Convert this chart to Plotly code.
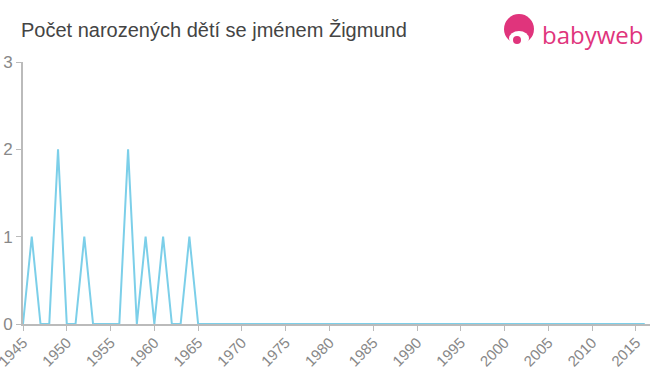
import plotly.graph_objects as go

years = list(range(1945, 2017))
counts_nonzero = {1946: 1, 1949: 2, 1952: 1, 1957: 2, 1959: 1, 1961: 1, 1964: 1}
counts = [counts_nonzero.get(y, 0) for y in years]
x_ticks = list(range(1945, 2016, 5))
y_ticks = [0, 1, 2, 3]

W, H = 660, 375
L, R, T, B = 23, 10, 62, 51
pw, ph = W - L - R, H - T - B

def px(x):
    return (x - L) / pw

def py(y):
    return (H - B - y) / ph

fig = go.Figure()
fig.add_trace(go.Scatter(x=years, y=counts, mode="lines",
                         line=dict(color="#7ccfe9", width=2), hoverinfo="x+y"))

fig.update_layout(
    width=W, height=H,
    margin=dict(l=L, r=R, t=T, b=B, autoexpand=False),
    paper_bgcolor="white", plot_bgcolor="white",
    showlegend=False,
    font=dict(family="Liberation Sans, Arial, sans-serif", color="#888"),
    xaxis=dict(range=[1945, 2016.6], tickvals=x_ticks, ticktext=[str(v) for v in x_ticks],
               tickangle=-45, tickfont=dict(size=15, color="#888"), automargin=False,
               ticklabeloverflow="allow", ticklabelstandoff=-3,
               showgrid=False, zeroline=False, showline=True, linecolor="#bbb", linewidth=2,
               ticks="outside", ticklen=5, tickcolor="#bbb"),
    yaxis=dict(range=[0, 3], tickvals=y_ticks, tickfont=dict(size=17, color="#888"), automargin=False,
               ticklabeloverflow="allow",
               showgrid=False, zeroline=False, showline=True, linecolor="#bbb", linewidth=2,
               ticks="outside", ticklen=5, tickcolor="#bbb"),
)

fig.add_annotation(text="Počet narozených dětí se jménem Žigmund", xref="paper", yref="paper",
                   x=px(19), y=py(30), xanchor="left", yanchor="middle", showarrow=False,
                   font=dict(size=20, color="#444", family="Liberation Sans, Arial, sans-serif"))

pink = "#e0347c"
# logo icon
fig.add_shape(type="circle", xref="paper", yref="paper",
              x0=px(504), x1=px(534), y0=py(44), y1=py(14), fillcolor=pink, line=dict(width=0))
fig.add_shape(type="circle", xref="paper", yref="paper",
              x0=px(509), x1=px(529), y0=py(46), y1=py(31), fillcolor="white", line=dict(width=0))
fig.add_shape(type="rect", xref="paper", yref="paper",
              x0=px(503), x1=px(535), y0=py(48), y1=py(44), fillcolor="white", line=dict(width=0))
fig.add_shape(type="circle", xref="paper", yref="paper",
              x0=px(513), x1=px(521), y0=py(44), y1=py(36), fillcolor=pink, line=dict(width=0))
fig.add_annotation(text="babyweb", xref="paper", yref="paper",
                   x=px(540), y=py(34), xanchor="left", yanchor="middle", showarrow=False,
                   font=dict(size=24, color=pink, family="Open Sans, Arial, sans-serif"))

fig.write_html("out.html", config={"displayModeBar": False},
               post_script="document.body.style.margin='0';document.body.style.padding='0';")
